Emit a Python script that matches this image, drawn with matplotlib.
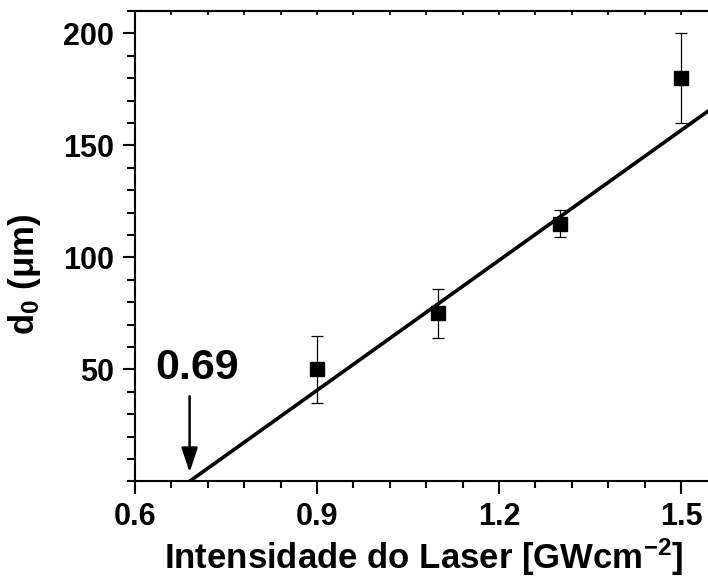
import matplotlib.pyplot as plt
import numpy as np
from matplotlib.ticker import MultipleLocator

plt.rcParams["font.family"] = ["Liberation Sans", "DejaVu Sans"]
plt.rcParams["font.weight"] = "bold"
plt.rcParams["mathtext.fontset"] = "custom"
plt.rcParams["mathtext.rm"] = "Liberation Sans:bold"
plt.rcParams["mathtext.bf"] = "Liberation Sans:bold"
plt.rcParams["mathtext.default"] = "bf"

# ── data ──────────────────────────────────────────────────────────────────────
intensity = [0.9, 1.1, 1.3, 1.5]
d0        = [50, 75, 115, 180]
d0_err    = [15, 11, 6, 20]

fit_x = [0.69, 1.56]
fit_y = [0.0, 168.3]

threshold = 0.69

# ── plot ──────────────────────────────────────────────────────────────────────
fig = plt.figure(figsize=(7.08, 5.82), dpi=100)
ax = fig.add_axes([135 / 708, 100.7 / 582, 576.6 / 708, 470.3 / 582])

ax.plot(fit_x, fit_y, color="black", lw=2.6, solid_capstyle="butt", zorder=2)
ax.errorbar(intensity, d0, yerr=d0_err, fmt="s", color="black", ms=9.5,
            elinewidth=0.9, capsize=4, capthick=0.9, zorder=3)

ax.annotate("", xy=(threshold, 4.0), xytext=(threshold, 38),
            arrowprops=dict(arrowstyle="-|>,head_length=0.75,head_width=0.25",
                            color="black", lw=1.8, shrinkA=0, shrinkB=0,
                            mutation_scale=20))
ax.text(0.703, 50.6, f"{threshold:.2f}", fontsize=31, fontweight="bold",
        ha="center", va="center")

ax.set_xlim(0.6, 1.5504)
ax.set_ylim(0, 210)
ax.set_xticks([0.6, 0.9, 1.2, 1.5])
ax.xaxis.set_minor_locator(MultipleLocator(0.06))
ax.set_yticks([50, 100, 150, 200])
ax.yaxis.set_minor_locator(MultipleLocator(10))

ax.tick_params(which="major", length=9, width=1.5, labelsize=22, pad=6)
ax.tick_params(which="minor", length=5, width=1.5)
ax.tick_params(axis="y", which="minor", length=6)
for lab in ax.get_xticklabels() + ax.get_yticklabels():
    lab.set_fontweight("bold")

top = ax.secondary_xaxis("top")
top.set_xticks(np.arange(0.6, 1.56, 0.06))
top.tick_params(direction="in", length=3, width=1.2, labeltop=False)
top.spines["top"].set_linewidth(1.5)

for s in ["left", "bottom", "top"]:
    ax.spines[s].set_linewidth(1.5)
ax.spines["right"].set_visible(False)

ax.set_xlabel("Intensidade do Laser [GWcm$^{-2}$]", fontsize=25,
              fontweight="bold", labelpad=3)
ax.set_ylabel("d$_0$ (μm)", fontsize=25, fontweight="bold")
ax.yaxis.set_label_coords(-0.16, 0.44)

fig.savefig("out.png", dpi=100)
